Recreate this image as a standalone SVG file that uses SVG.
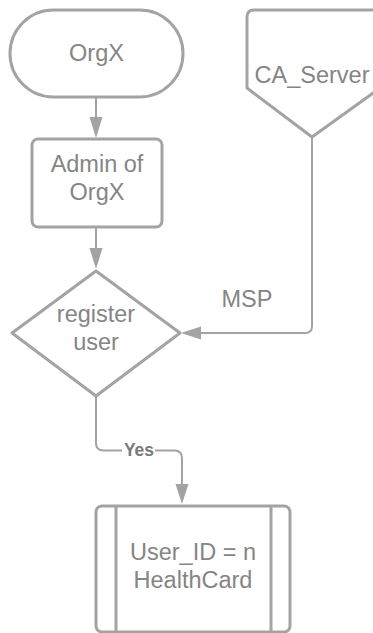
<svg xmlns="http://www.w3.org/2000/svg" width="373" height="633" viewBox="0 0 373 633">
<style>
.shape{fill:#ffffff;stroke:#a3a3a3;stroke-width:3;stroke-linejoin:round}
.conn{fill:none;stroke:#a3a3a3;stroke-width:2}
.head{fill:#a3a3a3;stroke:none}
.t{font-family:"Liberation Sans",Arial,sans-serif;font-size:23.5px;fill:#858585;text-anchor:middle}
.lbl{font-family:"Liberation Sans",Arial,sans-serif;font-size:17.5px;font-weight:bold;fill:#7a7a7a;text-anchor:middle}
</style>
<rect width="373" height="633" fill="#ffffff"/>
<g id="connectors">
  <line class="conn" x1="96" y1="97" x2="96" y2="118"/>
  <polygon class="head" points="89.5,117 102.5,117 96,138"/>
  <line class="conn" x1="96" y1="227" x2="96" y2="249"/>
  <polygon class="head" points="89.5,248 102.5,248 96,269"/>
  <path class="conn" d="M312,137 L312,326 Q312,333 305,333 L200,333"/>
  <polygon class="head" points="201,326.5 201,339.5 181,333"/>
  <text class="t" x="247" y="307">MSP</text>
  <path class="conn" d="M96,396 L96,443 Q96,450.5 103.5,450.5 L174.5,450.5 Q182,450.5 182,458 L182,485"/>
  <polygon class="head" points="175.5,484 188.5,484 182,504"/>
  <rect x="122" y="440" width="33" height="20" fill="#ffffff"/>
  <text class="lbl" x="139" y="456">Yes</text>
</g>
<g id="orgx">
  <rect class="shape" x="10" y="10" width="173" height="87" rx="43.5" ry="43.5"/>
  <text class="t" x="96.5" y="61">OrgX</text>
</g>
<g id="admin">
  <rect class="shape" x="32" y="139" width="130" height="88" rx="6" ry="6"/>
  <text class="t" x="97" y="172">Admin of</text>
  <text class="t" x="97" y="200">OrgX</text>
</g>
<g id="ca_server">
  <path class="shape" d="M247,88 L247,17 Q247,10 254,10 L380,10 L380,88 L312,137 Z"/>
  <text class="t" x="312" y="83">CA_Server</text>
</g>
<g id="register">
  <polygon class="shape" points="96,271 180,333 96,396 12,333"/>
  <text class="t" x="96" y="322">register</text>
  <text class="t" x="96" y="350">user</text>
</g>
<g id="healthcard">
  <rect class="shape" x="96" y="506" width="194" height="126" rx="6" ry="6"/>
  <line class="shape" x1="116" y1="506" x2="116" y2="632"/>
  <line class="shape" x1="271" y1="506" x2="271" y2="632"/>
  <text class="t" x="193" y="560">User_ID = n</text>
  <text class="t" x="193" y="588">HealthCard</text>
</g>
</svg>
